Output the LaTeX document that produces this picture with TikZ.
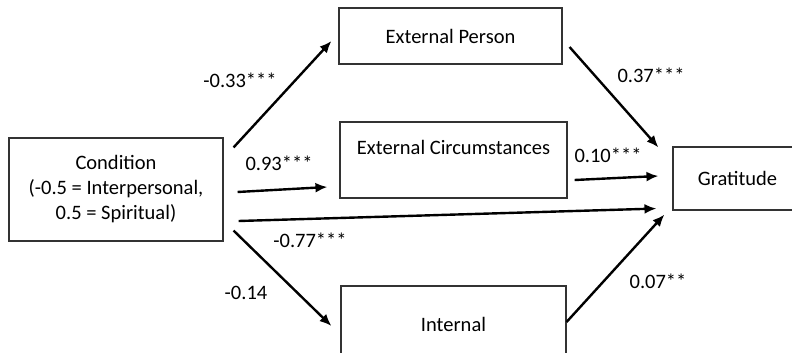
\documentclass[tikz,border=0pt]{standalone}
\usepackage{fontspec}
\setmainfont{Carlito}
\usepackage{tikz}
\usetikzlibrary{arrows.meta}

\begin{document}
\begin{tikzpicture}[x=1pt, y=-1pt, >={Latex[length=12pt,width=10pt]},
		box/.style={draw=black!80, line width=1.1pt, inner sep=0pt, align=center},
		coef/.style={inner sep=0pt},
		path/.style={->, line width=2.4pt}]
			\clip (0,0) rectangle (792,353);
			\tikzset{every node/.append style={font=\fontsize{20.5}{25}\selectfont}}
			% boxes
			\node[box, minimum width=214pt, minimum height=103pt] (cond) at (116,189.5)
				{Condition\\(-0.5 = Interpersonal,\\0.5 = Spiritual)};
			\node[box, minimum width=223pt, minimum height=56pt] (pers) at (450.5,36) {External Person};
			\node[box, minimum width=227pt, minimum height=76pt] (circ) at (453.5,160) {External Circumstances\\~};
			\node[box, minimum width=225pt, minimum height=76pt] (int) at (453.5,324) {Internal};
			\node[box, minimum width=129pt, minimum height=63pt] (grat) at (737.5,178.5) {Gratitude};
			% paths
			\draw[path] ([shift={(10,10)}]cond.north east) -- ([shift={(-7,5)}]pers.west);
			\draw[path] ([shift={(14,2.5)}]cond.east) -- ([shift={(-12,27)}]circ.west);
			\draw[path] ([shift={(15,31.5)}]cond.east) -- ([shift={(-16,-2)}]grat.south west);
			\draw[path] ([shift={(10,-11)}]cond.south east) -- ([shift={(-9,2)}]int.west);
			\draw[path] ([shift={(7,11)}]pers.east) -- ([shift={(-14,1)}]grat.north west);
			\draw[path] ([shift={(7,20)}]circ.east) -- ([shift={(-14,-2.5)}]grat.west);
			\draw[path] ([shift={(0,-2)}]int.east) -- ([shift={(-8,4)}]grat.south west);
			% coefficients
			\node[coef] (c-pers) at (240,80) {-0.33***};
			\node[coef] (c-circ) at (279,163) {0.93***};
			\node[coef] (c-direct) at (310,240) {-0.77***};
			\node[coef] (c-int) at (246,293) {-0.14};
			\node[coef] (b-pers) at (651,75) {0.37***};
			\node[coef] (b-circ) at (608,155) {0.10***};
			\node[coef] (b-int) at (658,281) {0.07**};
		\end{tikzpicture}
\end{document}
